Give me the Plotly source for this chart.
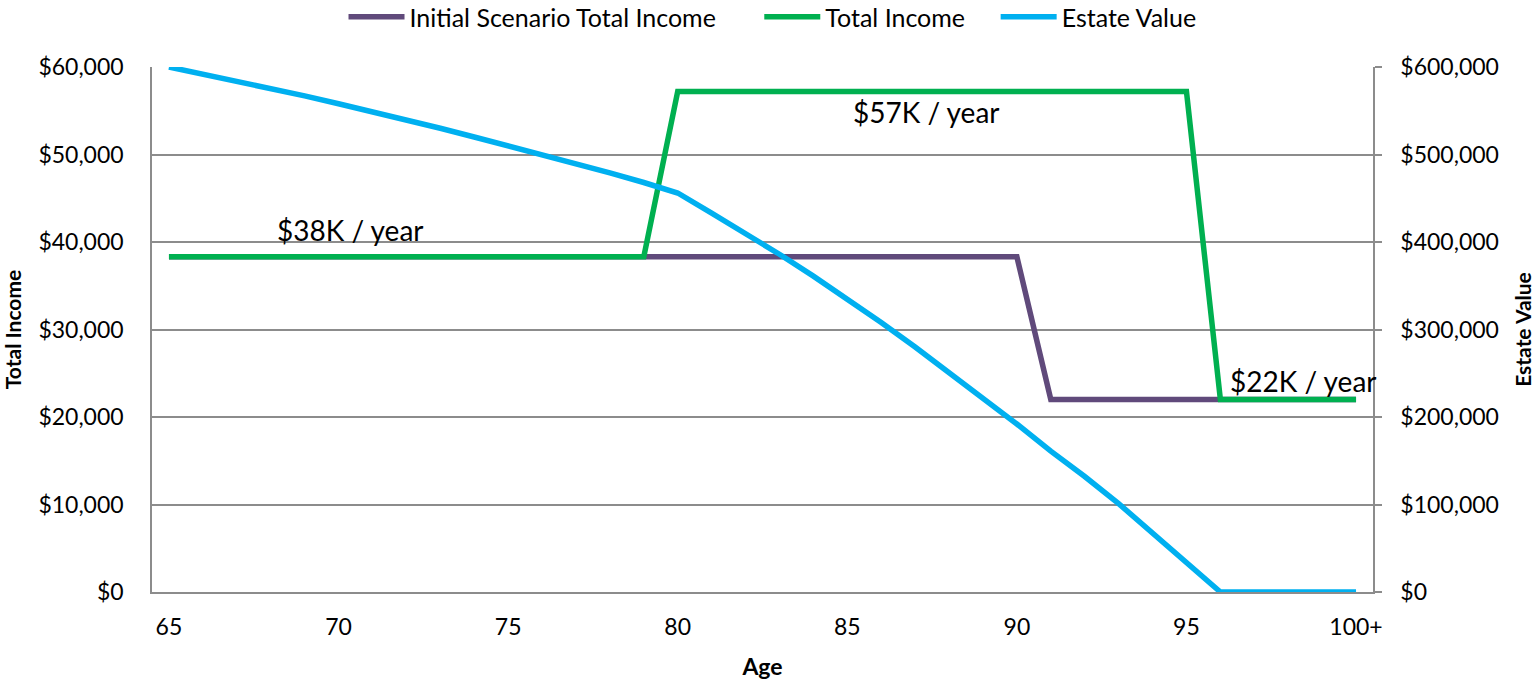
import plotly.graph_objects as go

# Ages shown along the x axis (last one is labelled "100+")
ages = [65, 66, 67, 68, 69, 70, 71, 72, 73, 74, 75, 76, 77, 78, 79, 80, 81, 82,
        83, 84, 85, 86, 87, 88, 89, 90, 91, 92, 93, 94, 95, 96, 97, 98, 99, 100]

initial_income = [38300, 38300, 38300, 38300, 38300, 38300, 38300, 38300, 38300,
                  38300, 38300, 38300, 38300, 38300, 38300, 38300, 38300, 38300,
                  38300, 38300, 38300, 38300, 38300, 38300, 38300, 38300, 22000,
                  22000, 22000, 22000, 22000, 22000, 22000, 22000, 22000, 22000]

total_income = [38300, 38300, 38300, 38300, 38300, 38300, 38300, 38300, 38300,
                38300, 38300, 38300, 38300, 38300, 38300, 57200, 57200, 57200,
                57200, 57200, 57200, 57200, 57200, 57200, 57200, 57200, 57200,
                57200, 57200, 57200, 57200, 22000, 22000, 22000, 22000, 22000]

estate_value = [600000, 592000, 584000, 575500, 567000, 558000, 549000, 540000,
                530000, 520000, 510000, 500000, 490000, 479000, 468000, 456000,
                433000, 410000, 386000, 361000, 335000, 308000, 280000, 251000,
                222000, 192000, 161000, 132000, 101000, 68000, 34000, 0, 0, 0, 0, 0]

x_tick_vals = [65, 70, 75, 80, 85, 90, 95, 100]
x_tick_text = ["65", "70", "75", "80", "85", "90", "95", "100+"]

# Income levels called out on the chart: (age, income value, vertical shift in px)
callouts = [(70.36, 38300, 27), (87.33, 57200, -20), (98.46, 22000, 19)]

FONT = "Lato, Calibri, 'Open Sans', sans-serif"
GRID = "#8c8c8c"
PURPLE = "#604A7B"
GREEN = "#00B050"
BLUE = "#00B0F0"
NBSP = "\u00a0"  # used to widen the gaps between legend entries

fig = go.Figure()
fig.add_trace(go.Scatter(x=ages, y=initial_income, mode="lines",
                         name="Initial Scenario Total Income" + NBSP * 6,
                         line=dict(color=PURPLE, width=5.5)))
fig.add_trace(go.Scatter(x=ages, y=total_income, mode="lines",
                         name="Total Income" + NBSP * 4,
                         line=dict(color=GREEN, width=5.5)))
fig.add_trace(go.Scatter(x=ages, y=estate_value, mode="lines",
                         name="Estate Value", yaxis="y2",
                         line=dict(color=BLUE, width=5.5)))

for age, val, shift in callouts:
    fig.add_annotation(x=age, y=val, xref="x", yref="y",
                       text=f"${round(val / 1000)}K / year",
                       showarrow=False, yshift=shift,
                       font=dict(family=FONT, size=28, color="#000000"))

fig.update_layout(
    width=1537, height=681,
    margin=dict(l=152, r=164, t=67, b=89, autoexpand=False),
    plot_bgcolor="white", paper_bgcolor="white",
    font=dict(family=FONT, size=23, color="#000000"),
    showlegend=True,
    legend=dict(orientation="h", x=0.5082, xanchor="center",
                y=1.0952, yref="paper", yanchor="middle",
                font=dict(family=FONT, size=25), itemwidth=56,
                bgcolor="rgba(0,0,0,0)"),
    xaxis=dict(range=[64.5, 100.5], tickvals=x_tick_vals, ticktext=x_tick_text,
               showgrid=False, zeroline=False, showline=True, linecolor=GRID,
               linewidth=1.5, ticks="", ticklabelstandoff=14, automargin=False,
               title=dict(text="<b>Age</b>", font=dict(family=FONT, size=23),
                          standoff=20)),
    yaxis=dict(range=[0, 60000], dtick=10000, tickprefix="$", tickformat=",d",
               showgrid=True, gridcolor=GRID, gridwidth=1.5, zeroline=False,
               showline=True, linecolor=GRID, linewidth=1.5, ticks="",
               ticklabelstandoff=22, automargin=False,
               title=dict(text="<b>Total Income</b>", font=dict(family=FONT, size=21),
                          standoff=12)),
    yaxis2=dict(range=[0, 600000], dtick=100000, tickprefix="$", tickformat=",d",
                overlaying="y", side="right", showgrid=False, zeroline=False,
                showline=True, linecolor=GRID, linewidth=1.5,
                ticks="outside", ticklen=7, tickcolor=GRID, tickwidth=1.5,
                ticklabelstandoff=14, automargin=False,
                title=dict(text="<b>Estate Value</b>", font=dict(family=FONT, size=21),
                           standoff=18)),
)

fig.write_html("out.html")
